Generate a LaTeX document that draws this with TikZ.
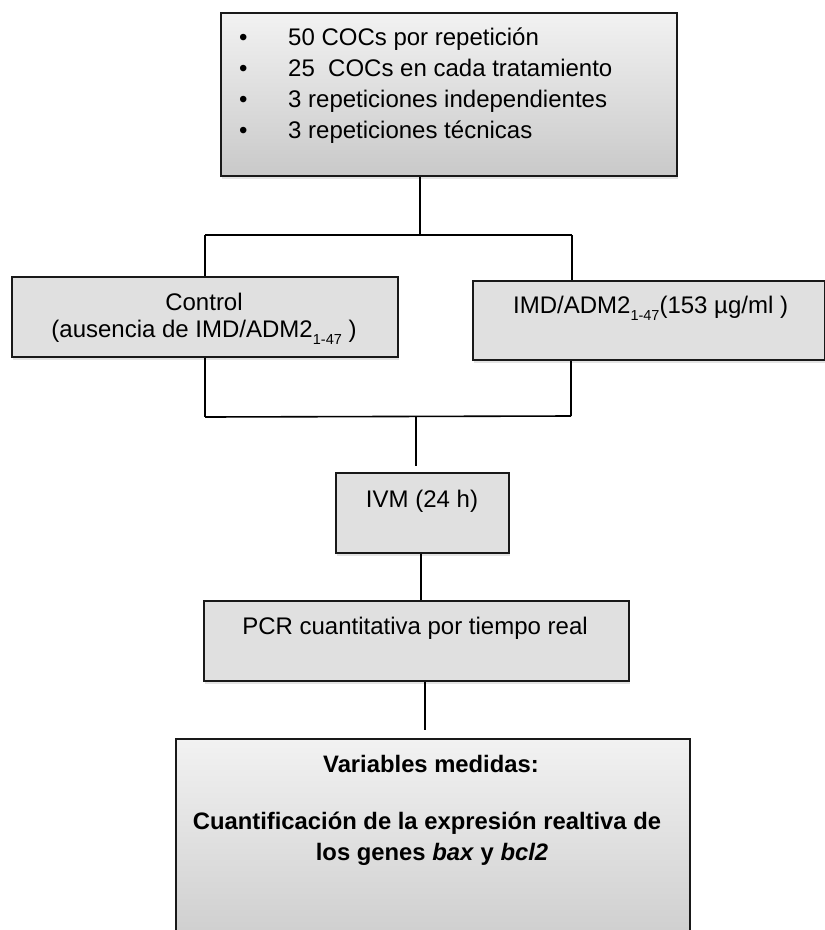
\documentclass[tikz,border=0pt]{standalone}
\usepackage{fontspec}
\setmainfont{Liberation Sans}
\usetikzlibrary{shadows}
\definecolor{boxgray}{HTML}{E0E0E0}
\definecolor{gradtop}{HTML}{F2F2F2}
\definecolor{gradbot}{HTML}{C9C9C9}
\newcommand\subidx[1]{\raisebox{-7pt}{\fontsize{14.5}{14.5}\selectfont #1}}
\begin{document}
\begin{tikzpicture}[x=1pt,y=-1pt,
  boxbase/.style={draw=black!90, line width=1.6pt, inner sep=0pt, anchor=north west,
    drop shadow={shadow xshift=1.5pt, shadow yshift=-3pt, opacity=0.22}},
  flatbox/.style={boxbase, fill=boxgray},
  gradbox/.style={boxbase, top color=gradtop, bottom color=gradbot},
  txt/.style={inner sep=0pt, font=\fontsize{24}{31}\selectfont},
  btxt/.style={inner sep=0pt, font=\fontsize{23.8}{30}\selectfont\bfseries},
  conn/.style={line width=1.6pt, draw=black}]
\clip (0,0) rectangle (825,930);
\useasboundingbox (0,0) rectangle (825,930);

% boxes
\node[gradbox, minimum width=456pt, minimum height=163pt] (top) at (220,12) {};
\node[flatbox, minimum width=386pt, minimum height=80pt] (ctrl) at (11,276) {};
\node[flatbox, minimum width=352pt, minimum height=79pt] (imd) at (472,280) {};
\node[flatbox, minimum width=173pt, minimum height=80pt] (ivm) at (335,472) {};
\node[flatbox, minimum width=425pt, minimum height=80pt] (pcr) at (203,600) {};
\node[gradbox, minimum width=514pt, minimum height=230pt] (res) at (175,738) {};

% junction coordinates
\coordinate (j1) at (420,235);
\coordinate (jl) at (205,235);
\coordinate (jr) at (572,235);
\coordinate (k1) at (205,417);
\coordinate (k2) at (571,416);
\coordinate (km) at (416,416);
\coordinate (kivm) at (416,466);
\coordinate (p1) at (421,552);
\coordinate (q1) at (425,680);
\coordinate (qres) at (425,730);

% connectors
\draw[conn] (top.south -| j1) -- (j1);
\draw[conn] (jl) -- (jr);
\draw[conn] (jl) -- (ctrl.north -| jl);
\draw[conn] (jr) -- (imd.north -| jr);
\draw[conn] (ctrl.south -| k1) -- (k1);
\draw[conn] (imd.south -| k2) -- (k2);
\draw[conn] (k1) -- (k2);
\draw[conn] (km) -- (kivm);
\draw[conn] (ivm.south -| p1) -- (pcr.north -| p1);
\draw[conn] (pcr.south -| q1) -- (qres);

% top box text
\node[txt, anchor=base west] (bu1) at (239,45) {•};
\node[txt, anchor=base west] (bu2) at (239,76) {•};
\node[txt, anchor=base west] (bu3) at (239,107) {•};
\node[txt, anchor=base west] (bu4) at (239,138) {•};
\node[txt, anchor=base west] (t1) at (288,45) {50 COCs por repetición};
\node[txt, anchor=base west] (t2) at (288,76) {25\ \ COCs en cada tratamiento};
\node[txt, anchor=base west] (t3) at (288,107) {3 repeticiones independientes};
\node[txt, anchor=base west] (t4) at (288,138) {3 repeticiones técnicas};

% control text
\node[txt, anchor=base] (c1) at (204,310) {Control};
\node[txt, anchor=base] (c2) at (204,337) {(ausencia de IMD/ADM2\subidx{1-47} )};

% IMD text
\node[txt, anchor=base west] (i1) at (513,313) {IMD/ADM2\subidx{1-47}(153 µg/ml )};

% IVM
\node[txt, anchor=base] (v1) at (422,507) {IVM (24 h)};

% PCR
\node[txt, anchor=base] (r1) at (415,634) {PCR cuantitativa por tiempo real};

% results
\node[btxt, anchor=base] (s1) at (431,772) {Variables medidas:};
\node[btxt, anchor=base] (s2) at (427,829) {Cuantificación de la expresión realtiva de};
\node[btxt, anchor=base] (s3) at (432,860) {los genes \textit{bax} y \textit{bcl2}};
\end{tikzpicture}
\end{document}
